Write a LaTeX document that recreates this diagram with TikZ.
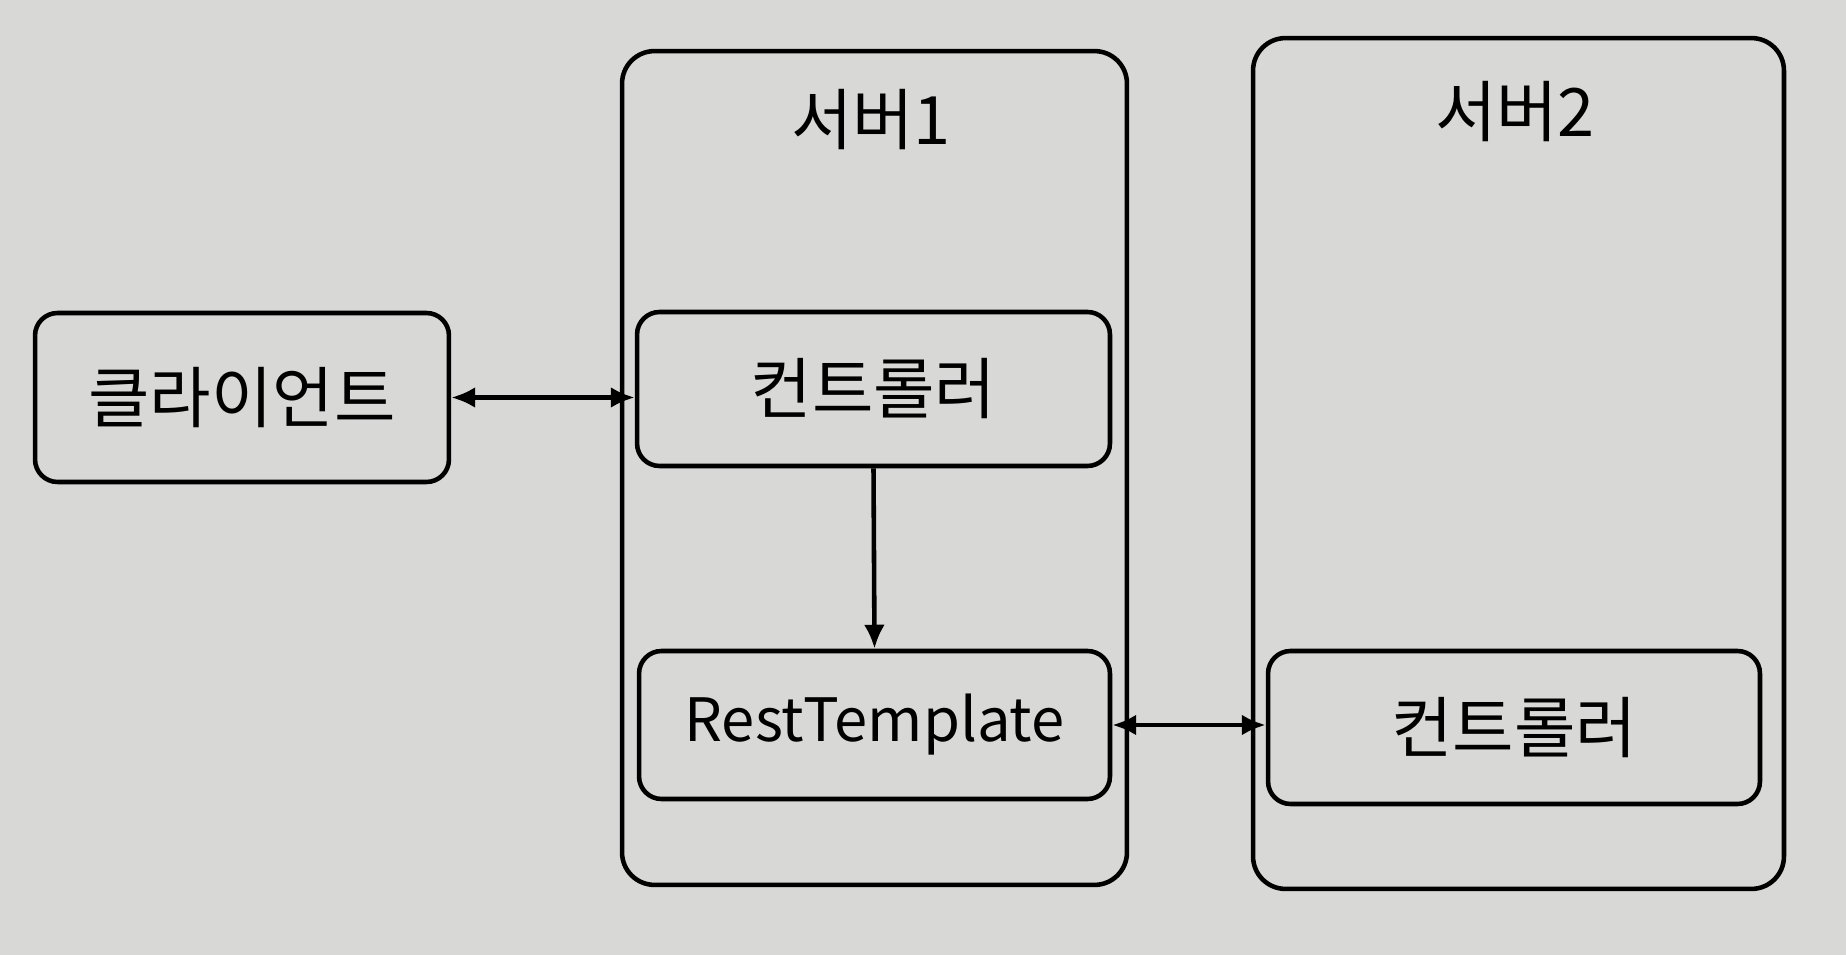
\documentclass[tikz,border=0pt]{standalone}
\usepackage{fontspec}
\newfontfamily\kr{Noto Sans CJK KR}
\usetikzlibrary{arrows.meta}
\definecolor{paper}{RGB}{216,216,214}
\tikzset{
  box/.style={draw,line width=2.6pt,rounded corners=0.45cm,inner sep=0pt,align=center},
  server/.style={box,rounded corners=0.65cm},
  lbl/.style={font=\kr\fontsize{38}{44}\selectfont},
  latinlbl/.style={font=\kr\fontsize{34}{40}\selectfont},
  conn/.style={line width=2.6pt,-{Latex[length=0.48cm,width=0.42cm]}},
  biconn/.style={line width=2.6pt,{Latex[length=0.48cm,width=0.42cm]}-{Latex[length=0.48cm,width=0.42cm]}}
}
\begin{document}
\begin{tikzpicture}[x=0.02cm,y=-0.02cm]
  \fill[paper] (0,0) rectangle (1846,955);
  \useasboundingbox (0,0) rectangle (1846,955);
  % servers
  \node[server,minimum width=10.1cm,minimum height=16.68cm] (srv1) at (874.5,468) {};
  \node[server,minimum width=10.62cm,minimum height=17.02cm] (srv2) at (1518.5,463.5) {};
  \node[lbl] (srv1lbl) at (871,120) {서버1};
  \node[lbl] (srv2lbl) at (1515,112) {서버2};
  % inner boxes
  \node[box,lbl,minimum width=8.28cm,minimum height=3.38cm] (client) at (242,397.5) {클라이언트};
  \node[box,lbl,minimum width=9.46cm,minimum height=3.08cm] (ctrl1) at (873.5,389) {컨트롤러};
  \node[box,latinlbl,minimum width=9.42cm,minimum height=2.96cm] (rest) at (874.5,725) {RestTemplate};
  \node[box,lbl,minimum width=9.84cm,minimum height=3.06cm] (ctrl2) at (1514,727.5) {컨트롤러};
  % connectors
  \draw[biconn] (client.east) -- (client.east -| ctrl1.west);
  \draw[conn] (ctrl1.south) -- (rest.north);
  \draw[biconn] (rest.east) -- (rest.east -| ctrl2.west);
\end{tikzpicture}
\end{document}
